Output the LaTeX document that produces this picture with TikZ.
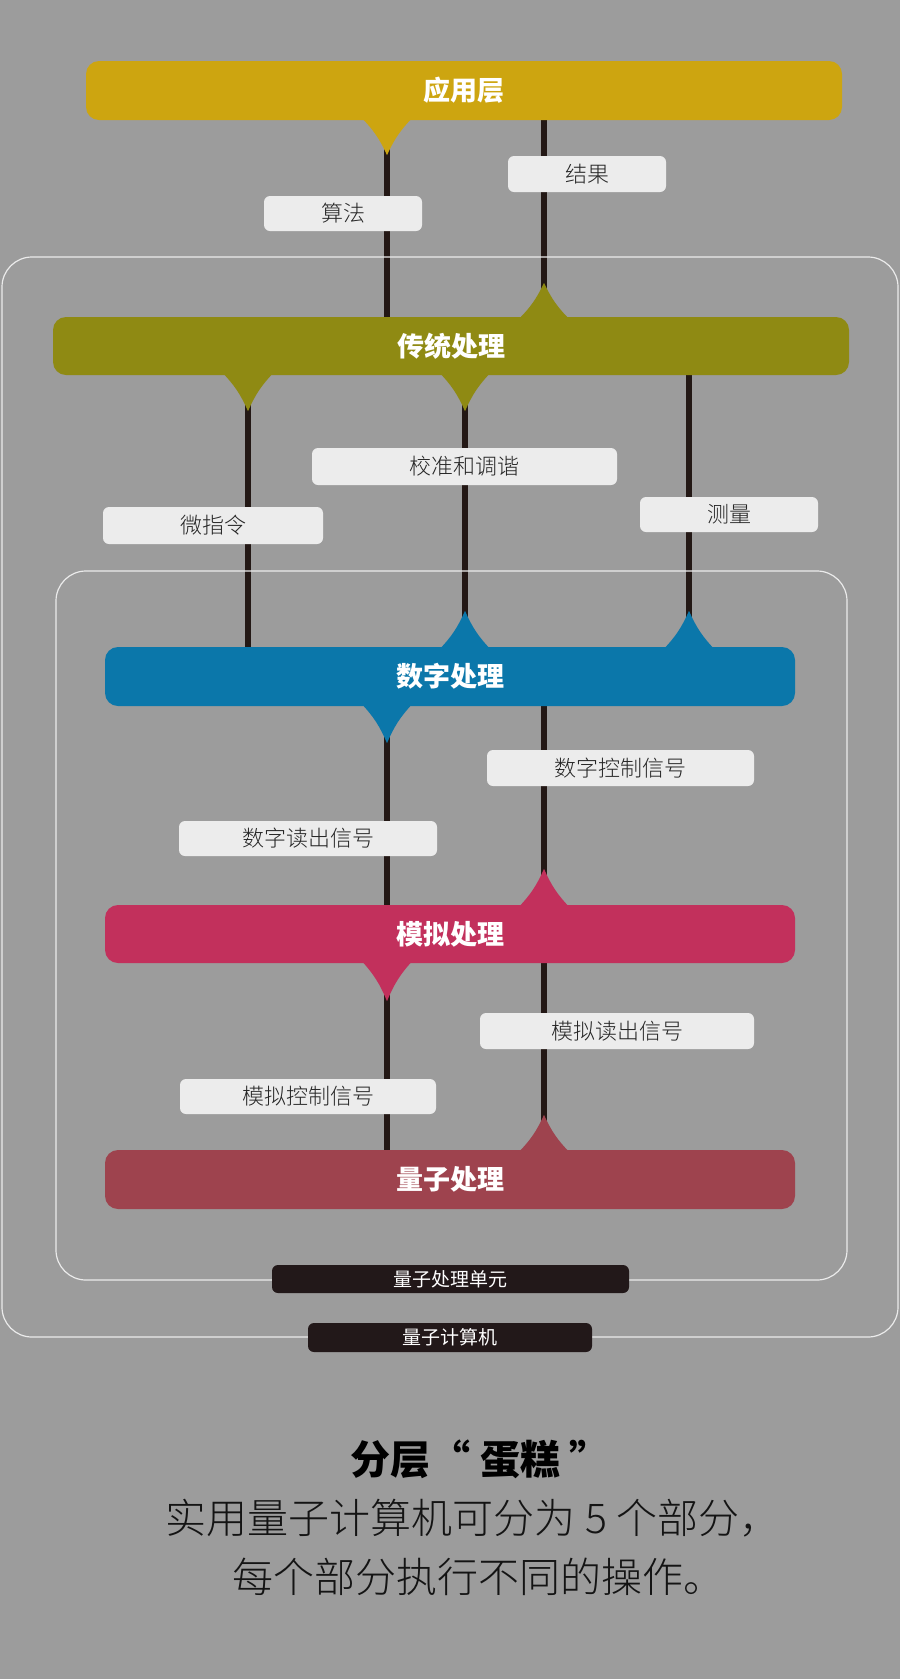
\documentclass[tikz,border=0pt]{standalone}
\usepackage{fontspec}
\setmainfont{Noto Sans CJK SC}
\newfontfamily\lightcjk{Noto Sans CJK SC}[UprightFont={* Light}]
\usetikzlibrary{calc}
\pgfdeclarelayer{bgzero}
\pgfdeclarelayer{bgone}
\pgfsetlayers{bgzero,bgone,main}
\definecolor{bgc}{HTML}{9C9C9C}
\definecolor{appc}{HTML}{CDA510}
\definecolor{tradc}{HTML}{8F8A13}
\definecolor{digc}{HTML}{0B77AA}
\definecolor{anac}{HTML}{C2305C}
\definecolor{qpc}{HTML}{9E434E}
\definecolor{darkc}{HTML}{221819}
\definecolor{linec}{HTML}{231815}
\definecolor{labc}{HTML}{ECECEC}
\tikzset{
  bar/.style={rounded corners=13pt, text=white, inner sep=0pt,
    font=\fontsize{27}{27}\selectfont\bfseries},
  lab/.style={fill=labc, rounded corners=6pt, text=black!85, inner sep=0pt,
    font=\fontsize{22}{22}\selectfont\lightcjk},
  darklab/.style={fill=darkc, rounded corners=6pt, text=white, inner sep=0pt,
    font=\fontsize{19}{19}\selectfont},
  conn/.style={draw=linec, line width=5.5pt},
  frame/.style={draw=white!92!black, line width=1.2pt, rounded corners=30pt},
  caption/.style={font=\fontsize{41}{41}\selectfont\lightcjk, text=black!92},
}
\newcommand\tipdown[4]{%
  \path (#2.south -| #3) coordinate (tb);
  \fill[#1] ($(tb)+(-26,-3)$) to[bend left=10] ($(tb)+(0,#4)$) to[bend left=10] ($(tb)+(26,-3)$) -- cycle;}
\newcommand\tipup[4]{%
  \path (#2.north -| #3) coordinate (tb);
  \fill[#1] ($(tb)+(-26,3)$) to[bend right=10] ($(tb)+(0,-#4)$) to[bend right=10] ($(tb)+(26,3)$) -- cycle;}
\begin{document}
\begin{tikzpicture}[x=1pt,y=-1pt]
\useasboundingbox (0,0) rectangle (900,1679);
\begin{pgfonlayer}{bgzero}
  \fill[bgc] (0,0) rectangle (900,1679);
\end{pgfonlayer}

% x positions of connectors
\coordinate (xA) at (387,0);
\coordinate (xB) at (544,0);
\coordinate (xC) at (248,0);
\coordinate (xD) at (465,0);
\coordinate (xE) at (689,0);

% frames
\draw[frame] (2,257) rectangle (898,1337) node[coordinate] (outerbox) {};
\draw[frame] (56,571) rectangle (847,1280) node[coordinate] (innerbox) {};

% layer bars
\node[bar, fill=appc, minimum width=756pt, minimum height=59pt] (app) at (464,90.5) {应用层};
\node[bar, fill=tradc, minimum width=796pt, minimum height=58pt] (trad) at (451,346) {传统处理};
\node[bar, fill=digc, minimum width=690pt, minimum height=59pt] (dig) at (450,676.5) {数字处理};
\node[bar, fill=anac, minimum width=690pt, minimum height=58pt] (ana) at (450,934) {模拟处理};
\node[bar, fill=qpc, minimum width=690pt, minimum height=59pt] (qp) at (450,1179.5) {量子处理};

% pointers
\tipdown{appc}{app}{xA}{35}
\tipup{tradc}{trad}{xB}{34}
\tipdown{tradc}{trad}{xC}{36}
\tipdown{tradc}{trad}{xD}{36}
\tipup{digc}{dig}{xD}{36}
\tipup{digc}{dig}{xE}{36}
\tipdown{digc}{dig}{xA}{37}
\tipup{anac}{ana}{xB}{36}
\tipdown{anac}{ana}{xA}{38}
\tipup{qpc}{qp}{xB}{35}

% connectors
\begin{pgfonlayer}{bgone}
  \draw[conn] (app.south -| xA) -- (trad.north -| xA);
  \draw[conn] (app.south -| xB) -- (trad.north -| xB);
  \draw[conn] (trad.south -| xC) -- (dig.north -| xC);
  \draw[conn] (trad.south -| xD) -- (dig.north -| xD);
  \draw[conn] (trad.south -| xE) -- (dig.north -| xE);
  \draw[conn] (dig.south -| xA) -- (ana.north -| xA);
  \draw[conn] (dig.south -| xB) -- (ana.north -| xB);
  \draw[conn] (ana.south -| xA) -- (qp.north -| xA);
  \draw[conn] (ana.south -| xB) -- (qp.north -| xB);
\end{pgfonlayer}

% connector labels
\node[lab, minimum width=158pt, minimum height=35pt] (l1) at (343,213.5) {算法};
\node[lab, minimum width=158pt, minimum height=36pt] (l2) at (587,174) {结果};
\node[lab, minimum width=305pt, minimum height=37pt] (l3) at (464.5,466.5) {校准和调谐};
\node[lab, minimum width=220pt, minimum height=37pt] (l4) at (213,525.5) {微指令};
\node[lab, minimum width=178pt, minimum height=35pt] (l5) at (729,514.5) {测量};
\node[lab, minimum width=267pt, minimum height=36pt] (l6) at (620.5,768) {数字控制信号};
\node[lab, minimum width=258pt, minimum height=35pt] (l7) at (308,838.5) {数字读出信号};
\node[lab, minimum width=274pt, minimum height=36pt] (l8) at (617,1031) {模拟读出信号};
\node[lab, minimum width=256pt, minimum height=35pt] (l9) at (308,1096.5) {模拟控制信号};

% frame labels
\node[darklab, minimum width=357pt, minimum height=28pt] (unit) at (450.5,1279) {量子处理单元};
\node[darklab, minimum width=284pt, minimum height=29pt] (qc) at (450,1337.5) {量子计算机};

% caption
\node[font=\fontsize{40}{40}\selectfont\bfseries, text=black] (title) at (480,1459) {分层“ 蛋糕 ”};
\node[caption] (cap1) at (473,1518) {实用量子计算机可分为 5 个部分，};
\node[caption] (cap2) at (478,1577) {每个部分执行不同的操作。};
\end{tikzpicture}
\end{document}
